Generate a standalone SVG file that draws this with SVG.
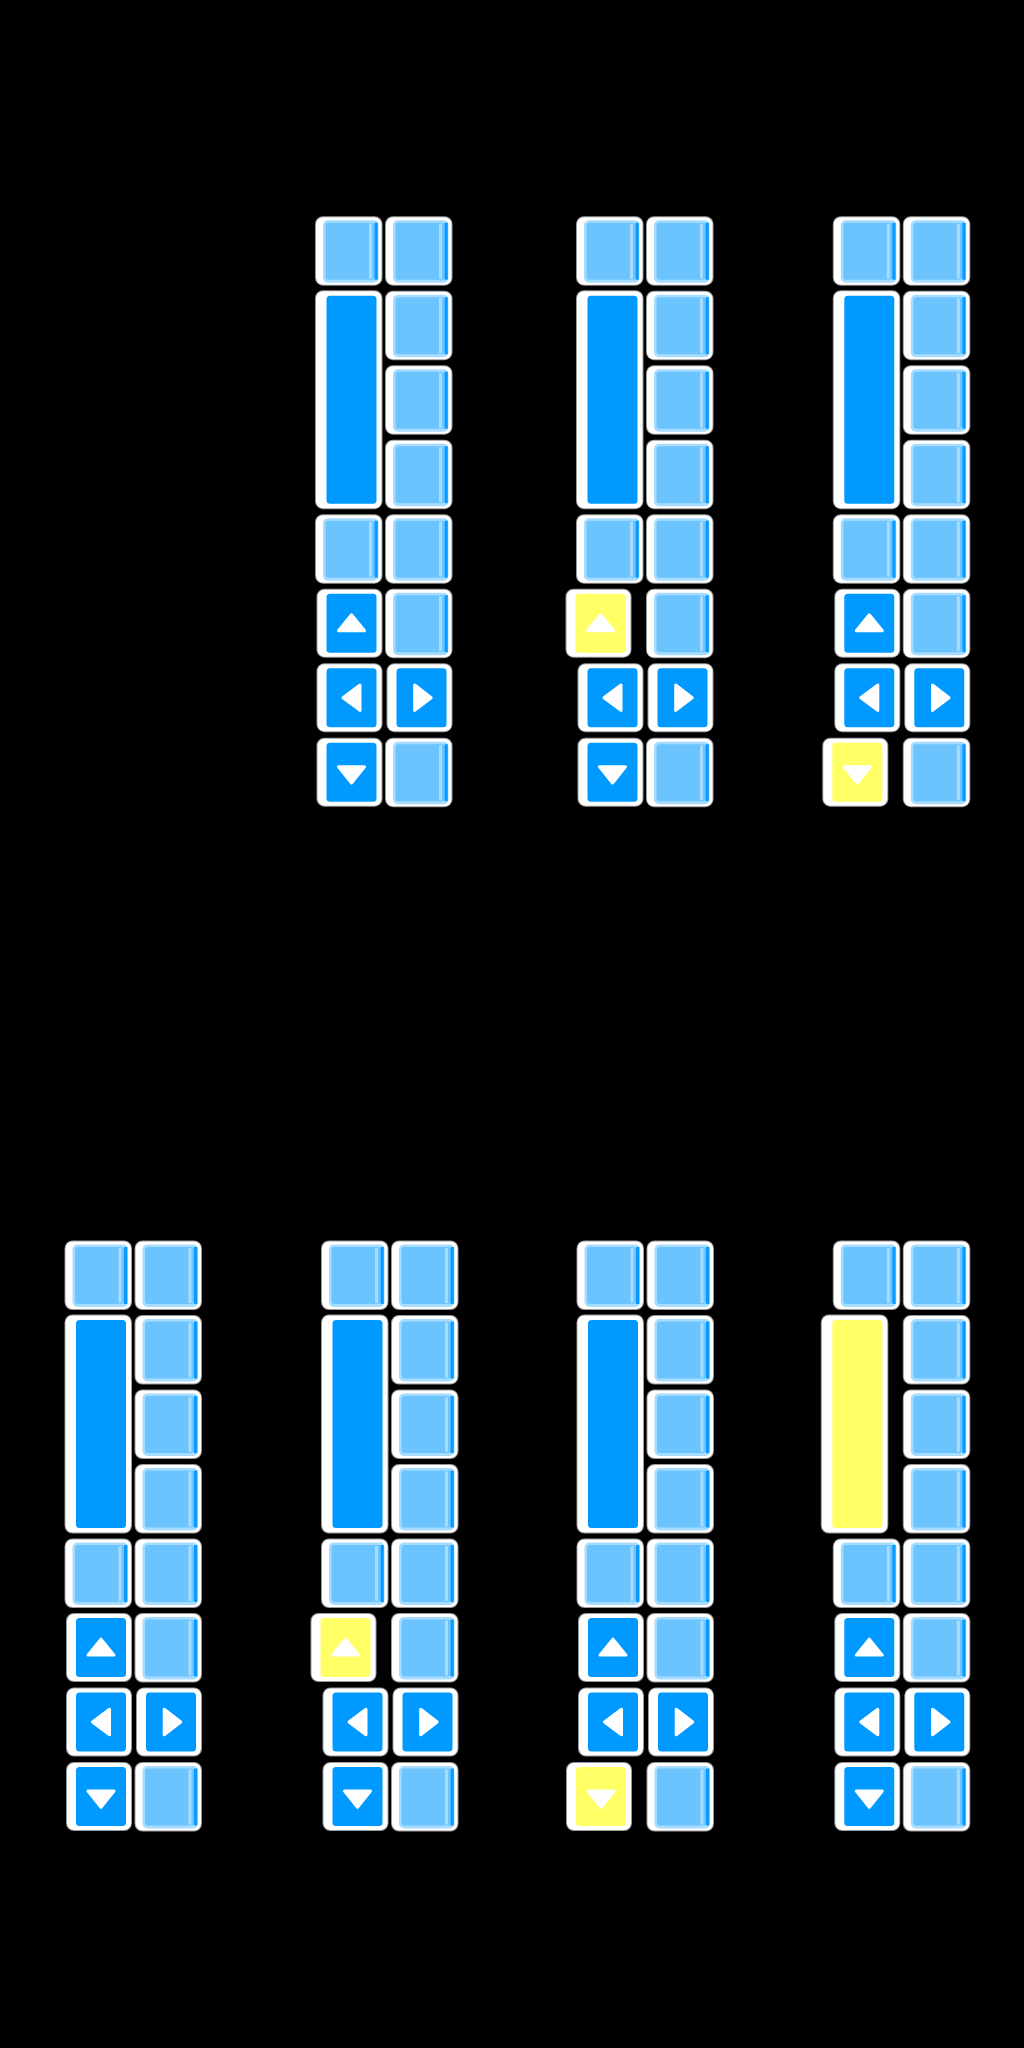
<svg xmlns="http://www.w3.org/2000/svg" xmlns:xlink="http://www.w3.org/1999/xlink" width="1024" height="2048" viewBox="0 0 1024 2048">
<style>
.w{fill:#ffffff;stroke:#ffffff;stroke-opacity:0.6;stroke-width:2}
.tri{fill:#ffffff;stroke:#ffffff;stroke-width:3;stroke-linejoin:round}
</style>
<defs>
<g id="kLight">
<rect x="0.5" y="0.5" width="65.5" height="67.5" rx="7" class="w"/>
<rect x="7.5" y="3.5" width="55.5" height="62.5" rx="5" fill="#A8DCFF"/>
<rect x="10" y="6" width="49" height="57" rx="3" fill="#6CC4FF"/>
<rect x="53.5" y="7" width="3" height="55" fill="#A8DCFF"/>
<rect x="59" y="6" width="3.3" height="57" fill="#0A99FF"/>
</g>
<g id="kDark">
<rect x="2" y="0.5" width="64" height="67" rx="7" class="w"/>
<rect x="11" y="4.5" width="50" height="59" rx="3.5" fill="#0099FF"/>
</g>
<g id="kYellow">
<rect x="-10" y="0.5" width="64" height="67" rx="7" class="w"/>
<rect x="-1" y="4.5" width="50" height="59" rx="3.5" fill="#FFFF66"/>
</g>
<g id="kTall">
<rect x="0.5" y="0" width="65.5" height="217" rx="7" class="w"/>
<rect x="11" y="4.5" width="50" height="208" rx="3.5" fill="#0099FF"/>
</g>
<g id="kTallYellow">
<rect x="-11.5" y="0" width="65.5" height="217" rx="7" class="w"/>
<rect x="-1" y="4.5" width="50" height="208" rx="3.5" fill="#FFFF66"/>
</g>
<polygon id="tUp" class="tri" points="36,25.6 49,41.6 23,41.6"/>
<polygon id="tDown" class="tri" points="23,28.5 49,28.5 36,44.8"/>
<polygon id="tLeft" class="tri" points="27.5,34 44.5,21.3 44.5,46.7"/>
<polygon id="tRight" class="tri" points="29.2,21.3 29.2,46.7 45.7,34"/>
<g id="tUpY"><use xlink:href="#tUp" href="#tUp" x="-12"/></g>
<g id="tDownY"><use xlink:href="#tDown" href="#tDown" x="-12"/></g>
<g id="common">
<use href="#kLight" xlink:href="#kLight" x="0" y="0"/>
<use href="#kLight" xlink:href="#kLight" x="70" y="0"/>
<use href="#kLight" xlink:href="#kLight" x="70" y="74.5"/>
<use href="#kLight" xlink:href="#kLight" x="70" y="149"/>
<use href="#kLight" xlink:href="#kLight" x="70" y="223.5"/>
<use href="#kLight" xlink:href="#kLight" x="0" y="298"/>
<use href="#kLight" xlink:href="#kLight" x="70" y="298"/>
<use href="#kLight" xlink:href="#kLight" x="70" y="372.5"/>
<g transform="translate(0,447)"><use href="#kDark" xlink:href="#kDark"/><use href="#tLeft" xlink:href="#tLeft"/></g>
<g transform="translate(70,447)"><use href="#kDark" xlink:href="#kDark"/><use href="#tRight" xlink:href="#tRight"/></g>
<use href="#kLight" xlink:href="#kLight" x="70" y="521.5"/>
</g>
<g id="tallN"><use href="#kTall" xlink:href="#kTall" y="74.5"/></g>
<g id="upN" transform="translate(0,372.5)"><use href="#kDark" xlink:href="#kDark"/><use href="#tUp" xlink:href="#tUp"/></g>
<g id="downN" transform="translate(0,521.5)"><use href="#kDark" xlink:href="#kDark"/><use href="#tDown" xlink:href="#tDown"/></g>
<g id="upY" transform="translate(0,372.5)"><use href="#kYellow" xlink:href="#kYellow"/><use href="#tUpY" xlink:href="#tUpY"/></g>
<g id="downY" transform="translate(0,521.5)"><use href="#kYellow" xlink:href="#kYellow"/><use href="#tDownY" xlink:href="#tDownY"/></g>
<g id="tallY"><use href="#kTallYellow" xlink:href="#kTallYellow" y="74.5"/></g>
</defs>
<rect x="0" y="0" width="1024" height="2048" fill="#000000"/>
<g id="connectors"/>
<g id="panel-top-1" transform="translate(315.5,216.7)">
<use href="#common" xlink:href="#common"/>
<use href="#tallN" xlink:href="#tallN"/>
<use href="#upN" xlink:href="#upN"/>
<use href="#downN" xlink:href="#downN"/>
</g>
<g id="panel-top-2" transform="translate(576.5,216.7)">
<use href="#common" xlink:href="#common"/>
<use href="#tallN" xlink:href="#tallN"/>
<use href="#upY" xlink:href="#upY"/>
<use href="#downN" xlink:href="#downN"/>
</g>
<g id="panel-top-3" transform="translate(833.3,216.7)">
<use href="#common" xlink:href="#common"/>
<use href="#tallN" xlink:href="#tallN"/>
<use href="#upN" xlink:href="#upN"/>
<use href="#downY" xlink:href="#downY"/>
</g>
<g id="panel-bottom-1" transform="translate(65,1241)">
<use href="#common" xlink:href="#common"/>
<use href="#tallN" xlink:href="#tallN"/>
<use href="#upN" xlink:href="#upN"/>
<use href="#downN" xlink:href="#downN"/>
</g>
<g id="panel-bottom-2" transform="translate(321.5,1241)">
<use href="#common" xlink:href="#common"/>
<use href="#tallN" xlink:href="#tallN"/>
<use href="#upY" xlink:href="#upY"/>
<use href="#downN" xlink:href="#downN"/>
</g>
<g id="panel-bottom-3" transform="translate(577,1241)">
<use href="#common" xlink:href="#common"/>
<use href="#tallN" xlink:href="#tallN"/>
<use href="#upN" xlink:href="#upN"/>
<use href="#downY" xlink:href="#downY"/>
</g>
<g id="panel-bottom-4" transform="translate(833.3,1241)">
<use href="#common" xlink:href="#common"/>
<use href="#tallY" xlink:href="#tallY"/>
<use href="#upN" xlink:href="#upN"/>
<use href="#downN" xlink:href="#downN"/>
</g>
</svg>
